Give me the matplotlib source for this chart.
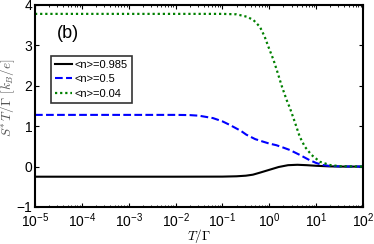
import numpy as np
import matplotlib
matplotlib.use("Agg")
import matplotlib.pyplot as plt
from matplotlib.ticker import LogLocator, NullFormatter

plt.rcParams['font.family'] = ['Liberation Sans', 'DejaVu Sans']
plt.rcParams['mathtext.fontset'] = 'cm'

# log10(T/Gamma) sample points and values
logT_black = [-5, -2, -1, -0.7, -0.5, -0.35, -0.2, 0, 0.2, 0.4, 0.6, 0.8, 1.0, 1.3, 1.6, 2]
S_black = [-0.25, -0.25, -0.248, -0.24, -0.225, -0.2, -0.15, -0.08, -0.01, 0.035, 0.045,
           0.035, 0.02, 0.005, 0.0, 0.0]

logT_blue = [-5, -2, -1.7, -1.5, -1.2, -1.0, -0.84, -0.6, -0.49, -0.3, -0.14, 0.0, 0.15,
             0.3, 0.44, 0.65, 0.86, 1.0, 1.14, 1.3, 1.5, 2]
S_blue = [1.28, 1.28, 1.275, 1.26, 1.2, 1.12, 1.03, 0.88, 0.79, 0.68, 0.62, 0.57, 0.53,
          0.47, 0.41, 0.29, 0.16, 0.09, 0.04, 0.015, 0.005, 0.0]

logT_green = [-5, -1, -0.7, -0.48, -0.34, -0.2, -0.1, -0.02, 0.09, 0.16, 0.27, 0.37, 0.44,
              0.54, 0.65, 0.76, 0.9, 1.08, 1.29, 1.5, 2]
S_green = [3.78, 3.78, 3.77, 3.71, 3.63, 3.46, 3.22, 2.97, 2.64, 2.39, 1.98, 1.65, 1.45,
           1.12, 0.74, 0.49, 0.29, 0.12, 0.04, 0.01, 0.0]

labels = ['<n>=0.985', '<n>=0.5', '<n>=0.04']
xticks = [1e-5, 1e-4, 1e-3, 1e-2, 1e-1, 1e0, 1e1, 1e2]
xticklabels = [r'$\mathregular{10^{-5}}$', r'$\mathregular{10^{-4}}$', r'$\mathregular{10^{-3}}$',
               r'$\mathregular{10^{-2}}$', r'$\mathregular{10^{-1}}$', r'$\mathregular{10^{0}}$',
               r'$\mathregular{10^{1}}$', r'$\mathregular{10^{2}}$']
yticks = [-1, 0, 1, 2, 3, 4]
yticklabels = ['\u22121', '0', '1', '2', '3', '4']

fig = plt.figure(figsize=(3.74, 2.44), dpi=100)
ax = fig.add_axes([35/374, 37/244, 328/374, 202/244])

ax.plot(10**np.array(logT_black), S_black, color='black', lw=1.5, label=labels[0])
ax.plot(10**np.array(logT_blue), S_blue, color='#0000ff', lw=1.5, ls='--', label=labels[1])
ax.plot(10**np.array(logT_green), S_green, color='#008000', lw=1.6, ls=(0, (1, 1.3)),
        label=labels[2])

ax.set_xscale('log')
ax.set_xlim(1e-5, 1e2)
ax.set_ylim(-1, 4)
ax.set_xticks(xticks)
ax.set_xticklabels(xticklabels)
ax.xaxis.set_minor_locator(LogLocator(base=10, subs=np.arange(2, 10), numticks=20))
ax.xaxis.set_minor_formatter(NullFormatter())
ax.set_yticks(yticks)
ax.set_yticklabels(yticklabels)
ax.tick_params(which='both', direction='in', top=True, right=True, labelsize=10, pad=2)
ax.tick_params(axis='x', which='major', pad=3.5)
ax.tick_params(which='major', length=3, width=0.8)
ax.tick_params(which='minor', length=1.5, width=0.6)
for s in ax.spines.values():
    s.set_linewidth(1.5)

ax.set_xlabel(r'$T/\Gamma$', fontsize=9.5)
ax.xaxis.set_label_coords(0.5, -0.1)
ax.set_ylabel(r'$S^{*}\,T/\Gamma\ [k_B/e]$', fontsize=9.5, color='#555555')
ax.yaxis.set_label_coords(-0.054, 0.54)

ax.text(0.067, 0.86, '(b)', transform=ax.transAxes, fontsize=13, va='center', ha='left')

leg = ax.legend(loc='upper left', bbox_to_anchor=(0.048, 0.748), fontsize=8,
                frameon=True, fancybox=False, handlelength=1.6, handletextpad=0.2,
                borderpad=0.35, labelspacing=0.4, borderaxespad=0)
leg.get_frame().set_edgecolor('black')
leg.get_frame().set_linewidth(1.2)

fig.savefig('out.png', dpi=100)
